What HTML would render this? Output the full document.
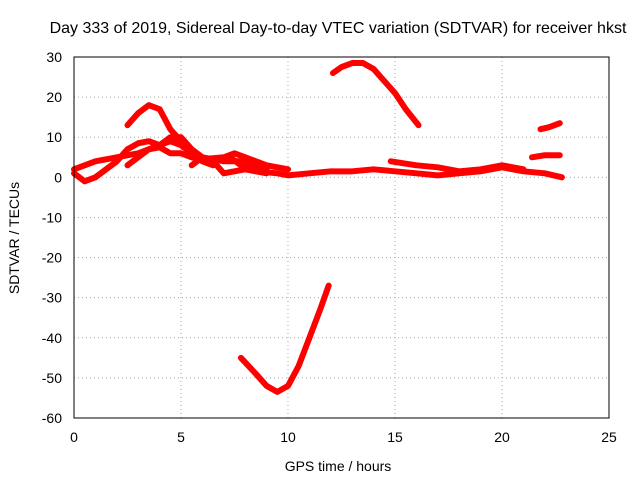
<!DOCTYPE html>
<html><head><meta charset="utf-8"><style>
body{margin:0;background:#fff}
svg{display:block;font-family:"Liberation Sans",sans-serif}
</style></head><body>
<svg id="c" width="640" height="480">
<text x="338" y="33" text-anchor="middle" font-size="16">Day 333 of 2019, Sidereal Day-to-day VTEC variation (SDTVAR) for receiver hkst</text>
<text x="338" y="471" text-anchor="middle" font-size="14">GPS time / hours</text>
<text transform="translate(19,238) rotate(-90)" text-anchor="middle" font-size="14">SDTVAR / TECUs</text>
<g id="grid"></g><g id="marks"></g>
<rect x="74" y="57" width="535" height="361" fill="none" stroke="#000"/>
</svg>
<script>
const xTicks=[0,5,10,15,20,25];
const yTicks=[30,20,10,0,-10,-20,-30,-40,-50,-60];
const s1=[[12.1,26],[12.5,27.5],[13,28.5],[13.5,28.5],[14,27],[14.5,24],[15,21],[15.5,17],[16.1,13]];
const s2=[[7.8,-45],[8.5,-49],[9,-52],[9.5,-53.5],[10,-52],[10.5,-47],[11,-40],[11.5,-33],[11.9,-27]];
const s3=[[21.8,12],[22.2,12.5],[22.7,13.5]];
const s4=[[21.4,5],[22,5.5],[22.7,5.5]];
const s5=[[2.5,13],[3,16],[3.5,18],[4,17],[4.5,12],[5,9],[5.3,7]];
const s6=[[7.3,5],[7.8,3],[8.5,1.5],[9.5,1],[10,0.5],[11,1],[12,1.5],[13,1.5],[14,2],[15,1.5],[16,1],[17,0.5],[18,1],[19,1.5],[20,2.5],[21,1.5],[22,1],[22.8,0]];
const s7=[[14.8,4],[16,3],[17,2.5],[18,1.5],[19,2],[20,3],[21,2]];
const s8=[[0,1],[0.5,-1],[1,0],[1.5,2],[2,4],[2.5,7],[3,8.5],[3.5,9],[4,8],[4.5,9],[5,8],[5.5,6],[6,4],[6.5,3]];
const s9=[[0,2],[1,4],[2,5],[3,6],[4,8],[4.5,10],[5,10],[5.5,7],[6,5],[7,4],[8,4],[9,2]];
const s10=[[2.5,3],[3,5],[3.5,7],[4,7.5],[4.5,6],[5,6],[5.5,5],[6,4.5],[7,5],[7.5,6],[8,5],[9,3],[10,2]];
const s11=[[5.5,3],[6,5],[6.5,4],[7,1],[8,2],[9,1]];
const series=[s1,s2,s3,s4,s5,s6,s7,s8,s9,s10,s11];
const X=v=>74+v*535/25, Y=v=>57+(30-v)*361/90;
const NS="http://www.w3.org/2000/svg";
const g=document.getElementById('grid'), m=document.getElementById('marks');
function el(t,a,p){const e=document.createElementNS(NS,t);for(const k in a)e.setAttribute(k,a[k]);p.appendChild(e);return e;}
xTicks.forEach(t=>{
 const l=el('line',{x1:X(t),x2:X(t),y1:57,y2:418,stroke:'#aaa','stroke-dasharray':'1,3'},g);
 
 
 const tx=el('text',{x:X(t),y:442,'text-anchor':'middle','font-size':14},g);tx.textContent=t;
 
 
});
yTicks.forEach(t=>{
 const l=el('line',{x1:74,x2:609,y1:Y(t),y2:Y(t),stroke:'#aaa','stroke-dasharray':'1,3'},g);
 
 
 const tx=el('text',{x:62,y:Y(t)+5,'text-anchor':'end','font-size':14},g);tx.textContent=t;
 
 
});
series.forEach((s,i)=>{
 const p=el('polyline',{points:s.map(d=>X(d[0])+','+Y(d[1])).join(' '),fill:'none',stroke:'#f00','stroke-width':6,'stroke-linejoin':'round','stroke-linecap':'round'},m);
 
 
});
</script>
</body></html>
